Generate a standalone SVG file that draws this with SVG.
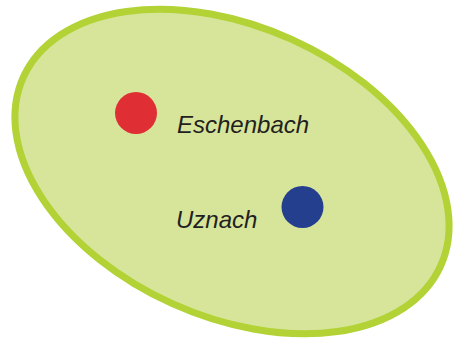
<svg xmlns="http://www.w3.org/2000/svg" width="458" height="341" viewBox="0 0 458 341">
<style>
.lbl{font-family:"Liberation Sans",Arial,sans-serif;font-style:italic;font-size:24px;fill:#231f20}
</style>
<rect width="458" height="341" fill="#ffffff"/>
<g id="region">
<ellipse cx="232" cy="171.5" rx="229" ry="145" transform="rotate(24.3 232 171.5)" fill="#d7e59b" stroke="#b2d235" stroke-width="7"/>
</g>
<g id="eschenbach">
<circle cx="136" cy="113" r="21" fill="#df2f35"/>
<text class="lbl" x="177" y="132.5">Eschenbach</text>
</g>
<g id="uznach">
<circle cx="302.5" cy="207" r="21" fill="#243f8e"/>
<text class="lbl" x="176" y="227.5">Uznach</text>
</g>
<g id="connectors"></g>
</svg>
